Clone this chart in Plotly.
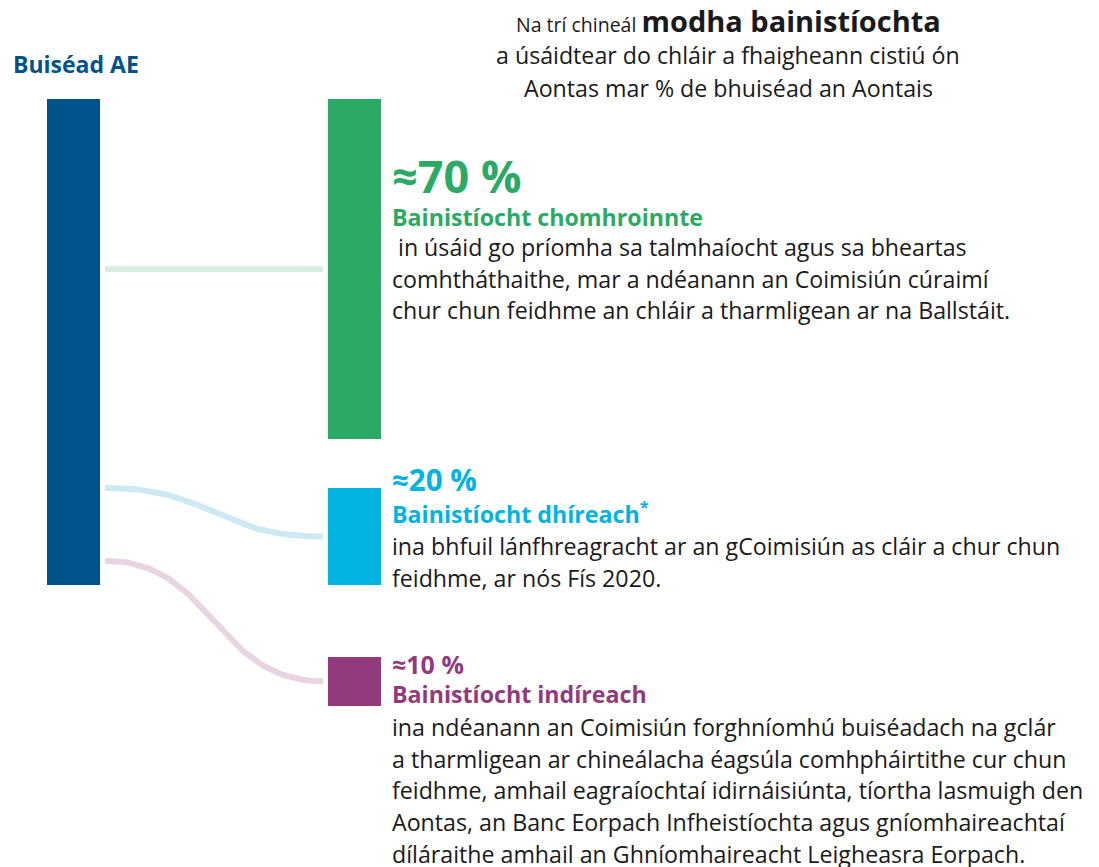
import plotly.graph_objects as go

# ---------------- data ----------------
source_label = "Buiséad AE"
categories = ["Bainistíocht chomhroinnte", "Bainistíocht dhíreach", "Bainistíocht indíreach"]
shares = [70, 20, 10]
share_labels = ["≈70 %", "≈20 %", "≈10 %"]
descriptions = [
    [" in úsáid go príomha sa talmhaíocht agus sa bheartas",
     "comhtháthaithe, mar a ndéanann an Coimisiún cúraimí",
     "chur chun feidhme an chláir a tharmligean ar na Ballstáit."],
    ["ina bhfuil lánfhreagracht ar an gCoimisiún as cláir a chur chun",
     "feidhme, ar nós Fís 2020."],
    ["ina ndéanann an Coimisiún forghníomhú buiséadach na gclár",
     "a tharmligean ar chineálacha éagsúla comhpháirtithe cur chun",
     "feidhme, amhail eagraíochtaí idirnáisiúnta, tíortha lasmuigh den",
     "Aontas, an Banc Eorpach Infheistíochta agus gníomhaireachtaí",
     "díláraithe amhail an Ghníomhaireacht Leigheasra Eorpach."],
]
title_lines = ["<span style='font-size:19.5px'>Na trí chineál </span><b><span style='font-size:29px'>modha bainistíochta</span></b>",
               "a úsáidtear do chláir a fhaigheann cistiú ón",
               "Aontas mar % de bhuiséad an Aontais"]

# ---------------- style / layout ----------------
FONT = "Open Sans"
W, H = 1099, 867
src_color = "#00538a"
node_colors = ["#2baa66", "#00b4e2", "#933a7d"]
link_colors = ["#d8ece0", "#cde9f3", "#e9d4e2"]
px_per_pct = 4.86
src_top = 99
src_x0, src_x1 = 47, 100
tgt_x0, tgt_x1 = 328, 381
tgt_tops = [99, 488, 657]
share_sizes = [45, 29.5, 25]
share_y = [175, 479, 664]
cat_y = [217, 513, 694]
desc_y0 = [247, 546, 727]
line_gap = 31.7
text_x = 390
body_size = 23.2

fig = go.Figure()

# source bar
fig.add_trace(go.Bar(x=[(src_x0 + src_x1) / 2], y=[sum(shares) * px_per_pct], base=[src_top],
                     width=[src_x1 - src_x0], marker=dict(color=src_color, line=dict(width=0)),
                     hoverinfo="skip", showlegend=False))

# target bars
heights = [s * px_per_pct for s in shares]
fig.add_trace(go.Bar(x=[(tgt_x0 + tgt_x1) / 2] * 3, y=heights, base=tgt_tops,
                     width=[tgt_x1 - tgt_x0] * 3, marker=dict(color=node_colors, line=dict(width=0)),
                     hoverinfo="skip", showlegend=False))

# links (bezier curves between stacked source segment mid and target mid)
cum = src_top
for i, s in enumerate(shares):
    h = s * px_per_pct
    y0 = cum + h / 2
    cum += h
    y1 = tgt_tops[i] + h / 2
    xa, xb = src_x1 + 5, tgt_x0 - 5
    xm = (xa + xb) / 2
    xs, ys = [], []
    n = 60
    for k in range(n + 1):
        t = k / n
        bx = (1 - t) ** 3 * xa + 3 * (1 - t) ** 2 * t * xm + 3 * (1 - t) * t ** 2 * xm + t ** 3 * xb
        by = (1 - t) ** 3 * y0 + 3 * (1 - t) ** 2 * t * y0 + 3 * (1 - t) * t ** 2 * y1 + t ** 3 * y1
        xs.append(bx)
        ys.append(by)
    fig.add_trace(go.Scatter(x=xs, y=ys, mode="lines", line=dict(color=link_colors[i], width=6),
                             hoverinfo="skip", showlegend=False))

ann = []
# source label
ann.append(dict(x=11, y=64, text=f"<b>{source_label}</b>", showarrow=False, xanchor="left", yanchor="middle",
                font=dict(family=FONT, size=23, color=src_color)))
# title
for i, (ty, tl) in enumerate(zip([20, 55, 88], title_lines)):
    ann.append(dict(x=728, y=ty, text=tl, showarrow=False, xanchor="center", yanchor="middle",
                    font=dict(family=FONT, size=body_size, color="#1a1a1a")))
# node texts
for i in range(3):
    ann.append(dict(x=text_x, y=share_y[i], text=f"<b>{share_labels[i]}</b>", showarrow=False,
                    xanchor="left", yanchor="middle",
                    font=dict(family=FONT, size=share_sizes[i], color=node_colors[i])))
    cat = categories[i] + ("<sup>*</sup>" if i == 1 else "")
    ann.append(dict(x=text_x, y=cat_y[i], text=f"<b>{cat}</b>", showarrow=False,
                    xanchor="left", yanchor="middle",
                    font=dict(family=FONT, size=body_size, color=node_colors[i])))
    for j, line in enumerate(descriptions[i]):
        ann.append(dict(x=text_x, y=desc_y0[i] + j * line_gap, text=line, showarrow=False,
                        xanchor="left", yanchor="middle",
                        font=dict(family=FONT, size=body_size, color="#1a1a1a")))

fig.update_layout(
    width=W, height=H, margin=dict(l=0, r=0, t=0, b=0),
    paper_bgcolor="white", plot_bgcolor="white",
    xaxis=dict(range=[0, W], visible=False, fixedrange=True),
    yaxis=dict(range=[H, 0], visible=False, fixedrange=True),
    annotations=ann, bargap=0, barmode="overlay",
)
fig.write_html("out.html", config={"displayModeBar": False},
               post_script="document.body.style.margin='0';document.body.style.overflow='hidden';")
